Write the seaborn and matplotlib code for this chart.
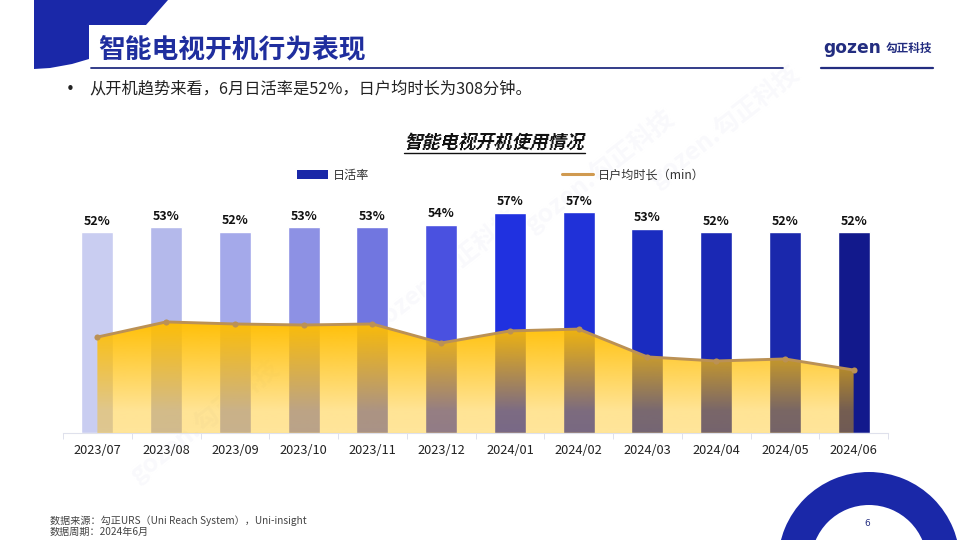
import numpy as np
import pandas as pd
import seaborn as sns
from matplotlib import pyplot as plt
from matplotlib.lines import Line2D
from matplotlib.patches import Patch, Polygon, Wedge

months = ["2023/07", "2023/08", "2023/09", "2023/10", "2023/11", "2023/12",
          "2024/01", "2024/02", "2024/03", "2024/04", "2024/05", "2024/06"]
active_rate = [52, 53.3, 52.2, 53.3, 53.3, 54, 57, 57.2, 53, 52, 52, 52]
rate_labels = ["52%", "53%", "52%", "53%", "53%", "54%", "57%", "57%", "53%", "52%", "52%", "52%"]
minutes = [469, 543, 533, 528, 533, 440, 499, 508, 372, 352, 362, 308]
bar_colors = ["#c9cdf1", "#b4b9eb", "#a4a9ea", "#8d91e4", "#7176e0", "#4a51e0",
              "#2031e0", "#2031d8", "#1a2cc0", "#1a28b4", "#1a28ac", "#12198c"]

BLUE = "#1a28a8"
NAVY = "#232d80"
CJK = ["Noto Sans CJK SC", "DejaVu Sans"]


def shear(image, dpi):
    # fake italic, the CJK fonts have no oblique face
    h, w = image.shape[:2]
    pad = int(h * 0.25) + 1
    out = np.zeros((h, w + pad, 4), dtype=image.dtype)
    for r in range(h):
        s = int((h - r) * 0.25)
        out[r, s:s + w] = image[r]
    return out, 0, 0


sns.set_theme(style="white")
plt.rcParams["font.family"] = CJK
plt.rcParams["axes.unicode_minus"] = False

fig = plt.figure(figsize=(9.6, 5.4), dpi=100, facecolor="white")

# page furniture, drawn in pixel coordinates
bg = fig.add_axes([0, 0, 1, 1], zorder=-1)
bg.set_xlim(0, 960)
bg.set_ylim(540, 0)
bg.axis("off")

for wx, wy in [(725, 125), (445, 270), (205, 420), (600, 170)]:
    bg.text(wx, wy, "gozen.勾正科技", color="#f9f9fc", fontsize=18, fontweight="bold",
            rotation=38, ha="center", va="center", zorder=0)

bg.add_patch(Polygon([(34, 0), (168, 0), (146, 25), (89, 25), (89, 59), (72, 64), (50, 68), (34, 69)],
                     closed=True, fc=BLUE, ec="none"))
bg.plot([91, 783], [67.5, 67.5], color=NAVY, lw=1.3)
bg.text(98, 49, "智能电视开机行为表现", color="#1f2e9e", fontsize=19.3, fontweight="bold",
        va="center", ha="left")

bg.text(823, 48, "gozen", color=NAVY, fontsize=12.3, fontweight="bold", va="center", ha="left",
        family="DejaVu Sans")
bg.text(886, 48, "勾正科技", color=NAVY, fontsize=8.4, fontweight="bold", va="center", ha="left")
bg.plot([821, 933], [67.5, 67.5], color=NAVY, lw=1.6)

bg.text(70, 89.5, "•", color="#222222", fontsize=11, va="center", ha="center", family="DejaVu Sans")
bg.text(89, 89, "从开机趋势来看，6月日活率是52%，日户均时长为308分钟。", color="#222222",
        fontsize=11.7, va="center")

chart_title = bg.text(403, 143, "智能电视开机使用情况", color="#111111", fontsize=13,
                      fontweight="bold", va="center")
chart_title.set_agg_filter(shear)
bg.plot([404, 585], [153, 153], color="#111111", lw=1)

bg.text(50, 520.5, "数据来源：勾正URS（Uni Reach System），Uni-insight", color="#444444",
        fontsize=7.25, va="center")
bg.text(50, 531.5, "数据周期：2024年6月", color="#444444", fontsize=7.25, va="center")

bg.add_patch(Wedge((869, 563), 91, 0, 360, width=33, fc=BLUE, ec="none"))
bg.text(867, 524, "6", color=NAVY, fontsize=6.5, ha="center", va="center", family="DejaVu Sans")

# chart
ax = fig.add_axes([63 / 960, 107 / 540, 825 / 960, 243 / 540], zorder=1)
ax.patch.set_visible(False)
df = pd.DataFrame({"month": months, "rate": active_rate, "minutes": minutes})
sns.barplot(data=df, x="month", y="rate", hue="month", palette=bar_colors, width=0.465,
            saturation=1, legend=False, ax=ax)
for container, label in zip(ax.containers, rate_labels):
    ax.bar_label(container, labels=[label], padding=3.5, fontsize=9, fontweight="bold", color="#111111")

ax.set_xlim(-0.5, 11.5)
ax.set_ylim(0, 63.0)
ax.set_xlabel("")
ax.set_ylabel("")
ax.set_yticks([])
ax.set_xticks(range(len(months)), months)
ax.tick_params(axis="x", length=0, pad=8, labelsize=9.2, labelcolor="#222222")
ax.set_xticks(np.arange(-0.5, 12), minor=True)
ax.tick_params(axis="x", which="minor", length=4, width=0.7, color="#dfe1ec", bottom=True)
sns.despine(ax=ax, left=True)
ax.spines["bottom"].set_color("#dfe1ec")
ax.spines["bottom"].set_linewidth(0.8)

ax2 = ax.twinx()
ax2.patch.set_visible(False)
x = np.arange(len(months))
area = ax2.fill_between(x, minutes, 0, facecolor="none", edgecolor="none")

# amber gradient that fades downward, so the bars show through
rgba = np.zeros((256, 1, 4))
rgba[..., 0] = 1.0
rgba[..., 1] = 190 / 255
rgba[..., 2] = 0.0
rgba[..., 3] = np.interp(np.linspace(0, 1, 256), [0, 0.8, 1], [0.98, 0.42, 0.4])[:, None]
im = ax2.imshow(rgba, extent=[x[0], x[-1], 0, max(minutes)], aspect="auto", origin="upper", zorder=1)
im.set_clip_path(area.get_paths()[0], transform=ax2.transData)

sns.lineplot(data=df, x=x, y="minutes", color="#bb9155", lw=2.1, marker="o", markersize=4.4,
             markeredgewidth=0, zorder=3, ax=ax2)
ax2.set_xlim(-0.5, 11.5)
ax2.set_ylim(0, 1188)
ax2.set_yticks([])
ax2.set_ylabel("")
ax2.set_xlabel("")
for side in ax2.spines:
    ax2.spines[side].set_visible(False)
ax2.grid(False)

handles = [Patch(fc=BLUE, ec="none", label="日活率"),
           Line2D([0], [0], color="#d09a50", lw=2.2, label="日户均时长（min）")]
fig.legend(handles=handles, ncol=2, frameon=False, fontsize=8.7, labelcolor="#333333",
           loc="center left", bbox_to_anchor=(297 / 960, 1 - 175 / 540), handlelength=2.55,
           handletextpad=0.4, columnspacing=16.0, borderaxespad=0, borderpad=0, handleheight=0.75)

fig.savefig("out.png", dpi=100)
